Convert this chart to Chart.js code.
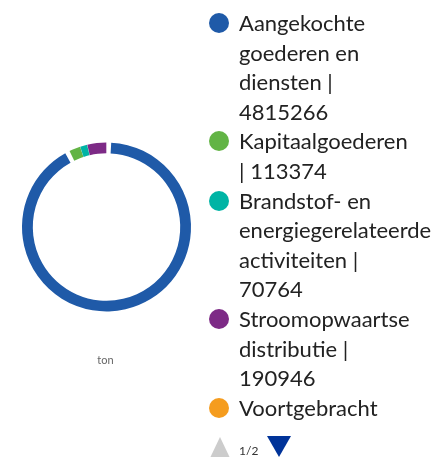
<!DOCTYPE html>
<html>
<head>
<meta charset="utf-8">
<script src="https://cdn.jsdelivr.net/npm/chart.js@4/dist/chart.umd.min.js"></script>
<style>
  html, body { margin: 0; padding: 0; background: #fff; }
  body { width: 437px; height: 457px; position: relative; overflow: hidden; font-family: Lato, "Open Sans", sans-serif; }
  #chartBox { position: absolute; left: 0; top: 0; width: 213px; height: 457px; }
  #unit { position: absolute; left: 0; width: 211px; top: 353px; text-align: center; font-size: 11px; color: #666; }
  #legend { position: absolute; left: 207px; top: 8px; width: 230px; height: 422px; overflow: hidden; }
  .item { position: relative; padding-left: 32px; width: 175px; font-size: 22px; line-height: 29.6px; color: #222; }
  .dot { position: absolute; left: 2px; top: 5px; width: 20px; height: 20px; border-radius: 50%; }
  #nav { position: absolute; left: 210px; top: 436px; height: 21px; width: 100px; }
  #nav svg { position: absolute; }
  #page { position: absolute; left: 29px; top: 7px; font-size: 12px; color: #333; }
</style>
</head>
<body>
<div id="chartBox"><canvas id="c" width="213" height="457"></canvas></div>
<div id="unit">ton</div>
<div id="legend"></div>
<div id="nav">
  <svg width="20" height="21" style="left:0;top:1px"><polygon points="10,0 20,21 0,21" fill="#cccccc"/></svg>
  <span id="page">1/2</span>
  <svg width="24" height="21" style="left:57px;top:0"><polygon points="0,0 24,0 12,21" fill="#003399"/></svg>
</div>
<script>
// Scope 3 emission categories (tonnes)
const categories = [
  'Aangekochte goederen en diensten',
  'Kapitaalgoederen',
  'Brandstof- en energiegerelateerde activiteiten',
  'Stroomopwaartse distributie',
  'Voortgebracht'
];
const values = [4815266, 113374, 70764, 190946, null];
const colors = ['#1f5aa8', '#62b445', '#00b4a5', '#7d2a86', '#f59c1e'];
const unitLabel = 'ton';

new Chart(document.getElementById('c'), {
  type: 'doughnut',
  data: {
    labels: categories,
    datasets: [{
      data: values,
      backgroundColor: colors,
      borderWidth: 0,
      spacing: 3,
      hoverOffset: 0
    }]
  },
  options: {
    responsive: false,
    animation: false,
    cutout: '87%',
    layout: { padding: { left: 22, right: 22, top: 0, bottom: 3 } },
    plugins: {
      legend: { display: false },
      tooltip: { enabled: false }
    }
  }
});

// Legend on the right: label and value per category
const legend = document.getElementById('legend');
categories.forEach((name, i) => {
  const item = document.createElement('div');
  item.className = 'item';
  const dot = document.createElement('span');
  dot.className = 'dot';
  dot.style.background = colors[i];
  item.appendChild(dot);
  item.appendChild(document.createTextNode(values[i] == null ? name : name + ' | ' + values[i]));
  legend.appendChild(item);
});
document.getElementById('unit').textContent = unitLabel;
</script>
</body>
</html>
